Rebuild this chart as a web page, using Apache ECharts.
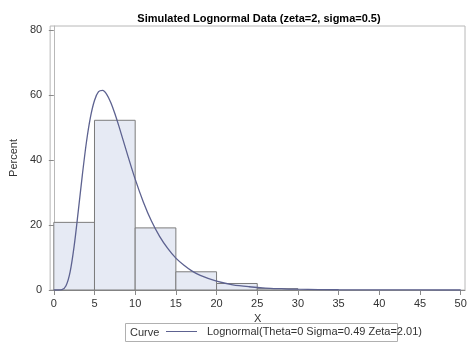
<!DOCTYPE html>
<html>
<head>
<meta charset="utf-8">
<script src="https://cdn.jsdelivr.net/npm/echarts@6/dist/echarts.min.js"></script>
<style>html,body{margin:0;padding:0;background:#fff}#c{width:474px;height:355px}</style>
</head>
<body>
<div id="c"></div>
<script>
var binStarts = [0, 5, 10, 15, 20, 25];
var binEnds = [5, 10, 15, 20, 25, 30];
var percents = [20.8, 52.2, 19.1, 5.6, 2.0, 0.4];
var curveX = [0, 0.5, 1, 1.5, 2, 2.5, 3, 3.5, 4, 4.5, 5, 5.5, 6, 6.5, 7, 7.5, 8, 9, 10, 11, 12, 13, 14, 15, 16, 17, 18, 20, 22, 24, 26, 28, 30, 35, 40, 45, 50];
var curveY = [0, 0, 0.1, 1.3, 5.5, 13.5, 24.1, 35.2, 45.3, 53.1, 58.3, 61.0, 61.4, 60.2, 57.7, 54.3, 50.4, 42.1, 34.1, 27.1, 21.2, 16.5, 12.8, 9.8, 7.6, 5.8, 4.5, 2.7, 1.6, 1.0, 0.6, 0.4, 0.24, 0.08, 0.03, 0.01, 0.004];
var xTicks = [0, 5, 10, 15, 20, 25, 30, 35, 40, 45, 50];
var yTicks = [0, 20, 40, 60, 80];

var bars = binStarts.map(function (s, i) { return [s, binEnds[i], percents[i]]; });
var curve = curveX.map(function (x, i) { return [x, curveY[i]]; });

var FONT = '"Liberation Sans", Arial, sans-serif';
var chart = echarts.init(document.getElementById('c'));
chart.setOption({
  animation: false,
  title: {
    text: 'Simulated Lognormal Data (zeta=2, sigma=0.5)',
    left: 254, top: 8, textAlign: 'center',
    textStyle: { fontFamily: FONT, fontSize: 11, fontWeight: 'bold', color: '#000' }
  },
  grid: { left: 49, right: 9, top: 26, bottom: 65, show: true, borderColor: '#b8b8b8', borderWidth: 1 },
  xAxis: {
    type: 'value', min: -0.45, max: 50.53,
    name: 'X', nameLocation: 'middle', nameGap: 23,
    nameTextStyle: { fontFamily: FONT, fontSize: 11, color: '#333' },
    axisLine: { show: true, lineStyle: { color: '#8a8a8a' } },
    axisTick: { show: true, length: 5, customValues: xTicks, lineStyle: { color: '#8a8a8a' } },
    axisLabel: { customValues: xTicks, margin: 8, fontFamily: FONT, fontSize: 11, color: '#333' },
    splitLine: { show: false }
  },
  yAxis: {
    type: 'value', min: 0, max: 81.2,
    name: 'Percent', nameLocation: 'middle', nameGap: 29,
    nameTextStyle: { fontFamily: FONT, fontSize: 11, color: '#333' },
    axisLine: { show: true, lineStyle: { color: '#b8b8b8' } },
    axisTick: { show: true, length: 5, customValues: yTicks, lineStyle: { color: '#8a8a8a' } },
    axisLabel: { customValues: yTicks, margin: 8, fontFamily: FONT, fontSize: 11, color: '#333' },
    splitLine: { show: false }
  },
  legend: {
    left: 166, top: 326, itemWidth: 31, itemHeight: 1, icon: 'rect', padding: 0,
    data: ['Lognormal(Theta=0 Sigma=0.49 Zeta=2.01)'],
    textStyle: { fontFamily: FONT, fontSize: 11, color: '#333', padding: [0, 0, 0, 5] }
  },
  graphic: [
    { type: 'rect', shape: { x: 125.5, y: 323.5, width: 272, height: 18 }, style: { fill: 'none', stroke: '#b0b0b0', lineWidth: 1 }, z: 0 },
    { type: 'text', left: 130, top: 327, style: { text: 'Curve', fontFamily: FONT, fontSize: 11, fill: '#333' } }
  ],
  series: [
    {
      type: 'custom', name: 'Histogram',
      data: bars,
      encode: { x: [0, 1], y: 2 },
      renderItem: function (params, api) {
        var p0 = api.coord([api.value(0), api.value(2)]);
        var p1 = api.coord([api.value(1), 0]);
        return {
          type: 'rect',
          shape: { x: p0[0], y: p0[1], width: p1[0] - p0[0], height: p1[1] - p0[1] },
          style: { fill: '#e6eaf4', stroke: '#7c7c7c', lineWidth: 1 }
        };
      },
      z: 1
    },
    {
      type: 'line', name: 'Lognormal(Theta=0 Sigma=0.49 Zeta=2.01)',
      data: curve, smooth: 0.3, symbol: 'none', showSymbol: false,
      lineStyle: { color: '#5d6290', width: 1.3 },
      itemStyle: { color: '#5d6290' },
      z: 3
    }
  ]
});
</script>
</body>
</html>
